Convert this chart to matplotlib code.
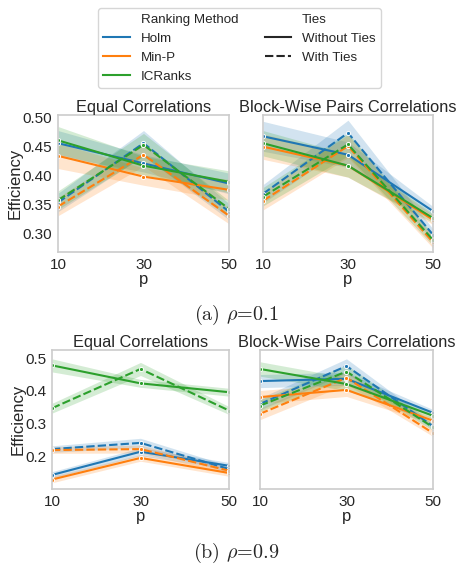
import matplotlib
matplotlib.use("Agg")
import matplotlib.pyplot as plt
from matplotlib.lines import Line2D

p_values = [10, 30, 50]
methods = ["Holm", "Min-P", "ICRanks"]
colors = ["#1f77b4", "#ff7f0e", "#2ca02c"]
ties_labels = ["Without Ties", "With Ties"]

# mean efficiency per method (rows: Holm, Min-P, ICRanks), rho = 0.1
equal_r01_without = [[0.456, 0.421, 0.386], [0.434, 0.398, 0.375], [0.461, 0.417, 0.389]]
equal_r01_with = [[0.353, 0.456, 0.337], [0.346, 0.436, 0.330], [0.357, 0.453, 0.342]]
block_r01_without = [[0.468, 0.436, 0.338], [0.450, 0.417, 0.323], [0.456, 0.417, 0.326]]
block_r01_with = [[0.368, 0.474, 0.297], [0.356, 0.451, 0.284], [0.363, 0.454, 0.288]]

# rho = 0.9
equal_r09_without = [[0.143, 0.214, 0.171], [0.129, 0.195, 0.149], [0.478, 0.423, 0.396]]
equal_r09_with = [[0.222, 0.241, 0.161], [0.219, 0.222, 0.156], [0.347, 0.467, 0.340]]
block_r09_without = [[0.430, 0.437, 0.333], [0.381, 0.403, 0.309], [0.467, 0.421, 0.324]]
block_r09_with = [[0.360, 0.476, 0.292], [0.330, 0.440, 0.271], [0.355, 0.459, 0.289]]

# 95% CI half-widths
equal_r01_without_ci = [[0.022, 0.015, 0.018], [0.022, 0.015, 0.018], [0.024, 0.016, 0.019]]
equal_r01_with_ci = [[0.016, 0.022, 0.014], [0.016, 0.02, 0.014], [0.016, 0.02, 0.014]]
block_r01_without_ci = [[0.026, 0.022, 0.008], [0.022, 0.02, 0.008], [0.022, 0.02, 0.008]]
block_r01_with_ci = [[0.016, 0.022, 0.01], [0.016, 0.02, 0.01], [0.016, 0.02, 0.01]]
equal_r09_without_ci = [[0.01, 0.012, 0.01], [0.01, 0.01, 0.01], [0.02, 0.012, 0.012]]
equal_r09_with_ci = [[0.01, 0.014, 0.01], [0.01, 0.012, 0.01], [0.015, 0.02, 0.012]]
block_r09_without_ci = [[0.02, 0.02, 0.01], [0.02, 0.02, 0.01], [0.022, 0.02, 0.01]]
block_r09_with_ci = [[0.018, 0.022, 0.01], [0.018, 0.02, 0.01], [0.018, 0.02, 0.01]]

plt.rcParams["font.family"] = ["Liberation Sans", "DejaVu Sans"]
plt.rcParams["mathtext.fontset"] = "cm"
plt.rcParams["text.color"] = "#262626"
plt.rcParams["axes.labelcolor"] = "#262626"
plt.rcParams["xtick.color"] = "#262626"
plt.rcParams["ytick.color"] = "#262626"

W, H = 460, 569
fig = plt.figure(figsize=(W / 100, H / 100), dpi=100)


def rect(l, r, t, b):
    return [l / W, 1 - b / H, (r - l) / W, (b - t) / H]


def draw_panel(ax, without, with_, without_ci, with_ci, title, ylim, yticks, yfmt, ylabel):
    for m in range(3):
        for vals, ci, ls in [(without[m], without_ci[m], "-"), (with_[m], with_ci[m], "--")]:
            lo = [v - c for v, c in zip(vals, ci)]
            hi = [v + c for v, c in zip(vals, ci)]
            ax.fill_between(p_values, lo, hi, color=colors[m], alpha=0.2, lw=0)
            line, = ax.plot(p_values, vals, color=colors[m], lw=1.5, ls=ls,
                            marker="o", ms=3, mec="white", mew=0.7)
            if ls == "--":
                line.set_dashes((4, 1.5))
    ax.set_xlim(10, 50)
    ax.set_xticks(p_values)
    ax.set_ylim(*ylim)
    ax.set_yticks(yticks)
    ax.set_yticklabels([yfmt.format(t) for t in yticks] if ylabel else [])
    ax.tick_params(length=0, labelsize=11, pad=4)
    for s in ax.spines.values():
        s.set_color("#cccccc")
        s.set_linewidth(1.2)
    ax.set_title(title, fontsize=11.8, pad=2)
    ax.set_xlabel("p", fontsize=12, labelpad=0)
    if ylabel:
        ax.set_ylabel("Efficiency", fontsize=12, labelpad=0)


top_ticks = [0.30, 0.35, 0.40, 0.45, 0.50]
bottom_ticks = [0.2, 0.3, 0.4, 0.5]

ax1 = fig.add_axes(rect(58, 229, 115, 252))
draw_panel(ax1, equal_r01_without, equal_r01_with, equal_r01_without_ci, equal_r01_with_ci,
           "Equal Correlations", (0.267, 0.505), top_ticks, "{:.2f}", True)
ax2 = fig.add_axes(rect(263, 433, 115, 252))
draw_panel(ax2, block_r01_without, block_r01_with, block_r01_without_ci, block_r01_with_ci,
           "Block-Wise Pairs Correlations", (0.267, 0.505), top_ticks, "{:.2f}", False)
ax3 = fig.add_axes(rect(52, 229, 350, 489))
draw_panel(ax3, equal_r09_without, equal_r09_with, equal_r09_without_ci, equal_r09_with_ci,
           "Equal Correlations", (0.10, 0.525), bottom_ticks, "{:.1f}", True)
ax4 = fig.add_axes(rect(260, 433, 350, 489))
draw_panel(ax4, block_r09_without, block_r09_with, block_r09_without_ci, block_r09_with_ci,
           "Block-Wise Pairs Correlations", (0.10, 0.525), bottom_ticks, "{:.1f}", False)

# legend with sub-headers, two columns
blank = Line2D([], [], color="none")
handles = [blank] + [Line2D([], [], color=c, lw=1.5) for c in colors]
labels = ["Ranking Method"] + methods
solid = Line2D([], [], color="#262626", lw=1.5)
dashed = Line2D([], [], color="#262626", lw=1.5, ls="--", dashes=(4, 1.5))
handles += [blank, solid, dashed, blank]
labels += ["Ties"] + ties_labels + [""]
leg = fig.legend(handles, labels, ncol=2, loc="upper center",
                 bbox_to_anchor=(239.5 / W, 1 - 8 / H), fontsize=9.6,
                 frameon=True, fancybox=True, borderaxespad=0)
leg.get_frame().set_edgecolor("#cccccc")

fig.text(236 / W, 1 - 315 / H, r"(a) $\rho$=0.1", fontfamily="cmr10",
         fontsize=14.5, ha="center", va="center")
fig.text(236 / W, 1 - 553 / H, r"(b) $\rho$=0.9", fontfamily="cmr10",
         fontsize=14.5, ha="center", va="center")

fig.savefig("out.png", dpi=100)
